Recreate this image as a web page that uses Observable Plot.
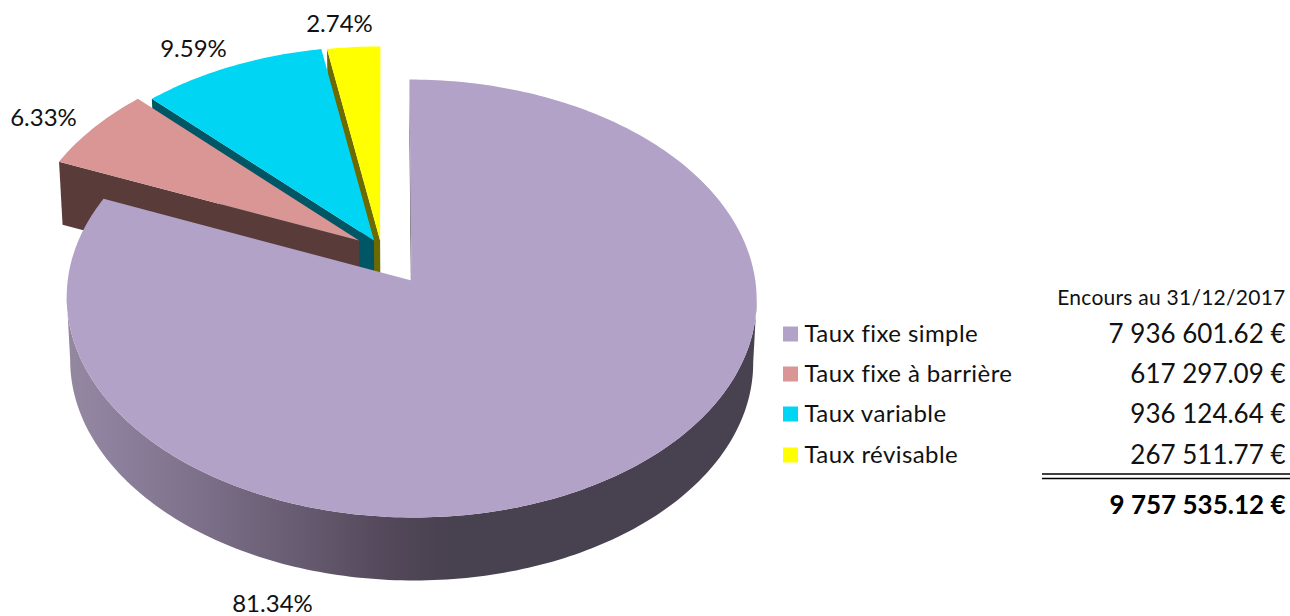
<!DOCTYPE html>
<html lang="fr">
<head>
<meta charset="utf-8">
<title>Encours au 31/12/2017</title>
<script src="https://cdn.jsdelivr.net/npm/d3@7"></script>
<script src="https://cdn.jsdelivr.net/npm/@observablehq/plot@0.6"></script>
<style>
  html, body { margin: 0; padding: 0; background: #fff; }
  svg { display: block; font-variant-ligatures: none; }
  .legend-row text { letter-spacing: 0.42px; }
  .table-head text { letter-spacing: 0.25px; }
</style>
</head>
<body>
<div id="chart"></div>
<script>
// Outstanding amounts per rate type
const categories = ["Taux fixe simple", "Taux fixe à barrière", "Taux variable", "Taux révisable"];
const amounts = [7936601.62, 617297.09, 936124.64, 267511.77];
const topColors = ["#b2a2c7", "#d99694", "#00d5f3", "#ffff00"];
const wallColors = ["#48414f", "#593c3a", "#005664", "#6c6a00"];
const tableHeader = "Encours au 31/12/2017";

// Shading along the outer wall of the main slice, from left to right
const shadeOffsets = [0, 0.046, 0.19, 0.337, 0.482, 0.554, 1];
const shadeColors = ["#94879f", "#8f83a0", "#7d708a", "#665b70", "#504657", "#48414f", "#48414f"];

// Disc centre and perspective of the tilted pie
const cx = 411, cy = 280;
const scaleU = 343.8, scaleV = 217.5, shear = 2.2, tilt = 0.0822;
const depth = 63, bottomShrink = 0.99;
// Offset of each slice on the disc (unit radius) and its radius
const sliceOffsets = [[0, 0], [-0.1535, -0.1867], [-0.1096, -0.1867], [-0.0915, -0.1867]];
const sliceRadii = [1, 0.994, 0.994, 0.994];

function project(u, v, bottom) {
  const w = 1 - tilt * v;
  const X = (scaleU * u + shear * v) / w;
  const Y = scaleV * v / w;
  return bottom
    ? {x: cx + bottomShrink * X, y: cy + depth + Y}
    : {x: cx + X, y: cy + Y};
}

const total = d3.sum(amounts);
const edges = [0, ...d3.cumsum(amounts).map(c => c / total * 360)];
const rim = (i, deg) => {
  const a = deg * Math.PI / 180;
  return [sliceOffsets[i][0] + sliceRadii[i] * Math.sin(a), sliceOffsets[i][1] - sliceRadii[i] * Math.cos(a)];
};
const arc = (i, bottom) => {
  const [a0, a1] = [edges[i], edges[i + 1]];
  const n = Math.ceil(a1 - a0);
  return d3.range(n + 1).map(k => project(...rim(i, a0 + (a1 - a0) * k / n), bottom));
};
const topFace = i => [project(...sliceOffsets[i], false), ...arc(i, false), project(...sliceOffsets[i], false)];
const cutFace = i => [
  project(...sliceOffsets[i], false),
  project(...rim(i, edges[i]), false),
  project(...rim(i, edges[i]), true),
  project(...sliceOffsets[i], true)
];
// The visible part of the outer wall runs between the two points where the rim turns back
const outerWall = i => {
  const upper = arc(i, false), lower = arc(i, true);
  const from = d3.greatestIndex(upper, p => p.x);
  const to = d3.leastIndex(upper, p => p.x);
  return [...upper.slice(from, to + 1), ...lower.slice(from, to + 1).reverse()];
};

const polygon = (points, fill) => Plot.line(points, {x: "x", y: "y", fill, stroke: "none", curve: "linear"});

// Gradient used by the outer wall
const wallGradient = () => {
  const defs = d3.create("svg:defs");
  const g = defs.append("linearGradient")
    .attr("id", "wallShade")
    .attr("gradientUnits", "userSpaceOnUse")
    .attr("x1", 68).attr("x2", 757).attr("y1", 0).attr("y2", 0);
  shadeOffsets.forEach((o, k) =>
    g.append("stop").attr("offset", o).attr("stop-color", shadeColors[k]));
  return defs.node();
};

// Painted from the back slice to the front one
const sliceMarks = [3, 2, 1].flatMap(i => [
  polygon(cutFace(i), wallColors[i]),
  polygon(topFace(i), topColors[i])
]);

const percent = d3.format(".2f");
const money = d3.formatLocale({decimal: ".", thousands: " ", grouping: [3], currency: ["", " €"]}).format(",.2f");
const euros = v => money(v) + " €";

const percentLabels = categories.map((c, i) => ({
  text: percent(amounts[i] / total * 100) + "%",
  ...[{x: 272, y: 603.5}, {x: 43, y: 118}, {x: 193, y: 49}, {x: 339, y: 24}][i]
}));
const rowY = [334, 374, 414, 455];
const rows = categories.map((name, i) => ({name, amount: amounts[i], color: topColors[i], y: rowY[i]}));
const ink = "#111";

const chart = Plot.plot({
  width: 1290,
  height: 616,
  margin: 0,
  x: {type: "linear", domain: [0, 1290], range: [0, 1290], axis: null},
  y: {type: "linear", domain: [0, 616], range: [0, 616], axis: null},
  style: {background: "#fff", fontFamily: "Lato, sans-serif"},
  marks: [
    wallGradient,
    ...sliceMarks,
    polygon(cutFace(0), wallColors[0]),
    polygon(outerWall(0), "url(#wallShade)"),
    polygon(topFace(0), topColors[0]),
    Plot.text(percentLabels, {x: "x", y: "y", text: "text", fontSize: 24, fill: ink}),
    // Legend
    Plot.rect(rows, {
      x1: () => 783, x2: () => 798,
      y1: d => d.y - 7.5, y2: d => d.y + 7.5,
      fill: d => d.color
    }),
    Plot.text(rows, {x: () => 804, y: "y", text: "name", textAnchor: "start", fontSize: 24, fill: ink, className: "legend-row"}),
    // Amount column
    Plot.text([tableHeader], {x: () => 1285, y: () => 298, textAnchor: "end", fontSize: 21, fill: ink, className: "table-head"}),
    Plot.text(rows, {x: () => 1285, y: "y", text: d => euros(d.amount), textAnchor: "end", fontSize: 26, fill: ink}),
    Plot.ruleY([473.5, 478], {x1: 1042, x2: 1290, stroke: "#000", strokeWidth: 1.5}),
    Plot.text([total], {x: () => 1285, y: () => 505, text: d => euros(d), textAnchor: "end", fontSize: 26, fontWeight: 700, fill: "#000"})
  ],
  color: {type: "identity"}
});
document.getElementById("chart").append(chart);
</script>
</body>
</html>
